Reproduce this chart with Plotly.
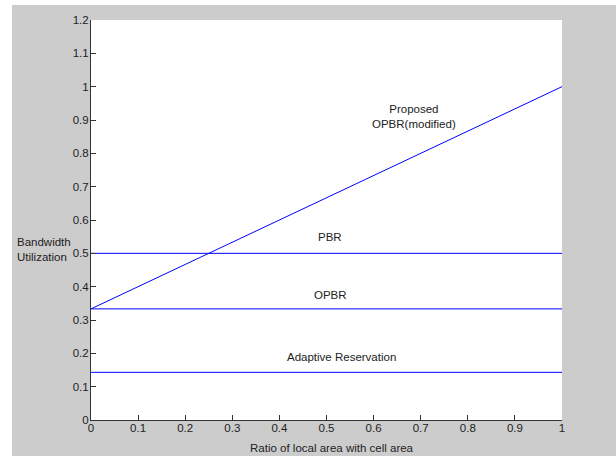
import plotly.graph_objects as go

x_vals = [0, 1]
proposed = [1/3, 1.0]
pbr = [0.5, 0.5]
opbr = [1/3, 1/3]
adaptive = [0.143, 0.143]

x_ticks = [0, 0.1, 0.2, 0.3, 0.4, 0.5, 0.6, 0.7, 0.8, 0.9, 1]
y_ticks = [0, 0.1, 0.2, 0.3, 0.4, 0.5, 0.6, 0.7, 0.8, 0.9, 1, 1.1, 1.2]
x_labels = ["0", "0.1", "0.2", "0.3", "0.4", "0.5", "0.6", "0.7", "0.8", "0.9", "1"]
y_labels = ["0", "0.1", "0.2", "0.3", "0.4", "0.5", "0.6", "0.7", "0.8", "0.9", "1", "1.1", "1.2"]

labels = [
    ("Proposed<br>OPBR(modified)", 0.686, 0.91),
    ("PBR", 0.507, 0.549),
    ("OPBR", 0.509, 0.375),
    ("Adaptive Reservation", 0.531, 0.19),
]

FONT = "Liberation Sans, Arial, sans-serif"
FS = 11.5
TXT = "#222222"
BLUE = "#0000ff"

fig = go.Figure()
for ys in [proposed, pbr, opbr, adaptive]:
    fig.add_trace(go.Scatter(x=x_vals, y=ys, mode="lines",
                             line=dict(color=BLUE, width=1), showlegend=False,
                             hoverinfo="skip"))

for text, xx, yy in labels:
    fig.add_annotation(x=xx, y=yy, xref="x", yref="y", text=text, showarrow=False,
                       font=dict(family=FONT, size=FS, color=TXT), align="center")

fig.add_annotation(x=(15-91)/471, y=(420-249)/400, xref="paper", yref="paper",
                   text="Bandwidth<br>Utilization", showarrow=False, xanchor="left",
                   yanchor="middle", align="left",
                   font=dict(family=FONT, size=FS, color=TXT))
fig.add_annotation(x=(332-91)/471, y=(420-448)/400, xref="paper", yref="paper",
                   text="Ratio of local area with cell area", showarrow=False,
                   xanchor="center", yanchor="middle",
                   font=dict(family=FONT, size=FS, color=TXT))

# white screenshot strips on top and left
fig.add_shape(type="rect", xref="paper", yref="paper", x0=-0.2, x1=(12-91)/471,
              y0=-0.2, y1=1.1, fillcolor="white", line=dict(width=0), layer="below")
fig.add_shape(type="rect", xref="paper", yref="paper", x0=-0.2, x1=1.2,
              y0=(420-5)/400, y1=1.1, fillcolor="white", line=dict(width=0), layer="below")

axis_common = dict(ticks="inside", ticklen=5, tickcolor="#333333", showline=True,
                   linecolor="#333333", linewidth=1, showgrid=False, zeroline=False,
                   tickfont=dict(family=FONT, size=FS, color=TXT), mirror=False)

fig.update_xaxes(range=[0, 1], tickvals=x_ticks, ticktext=x_labels,
                 ticklabelstandoff=-3, **axis_common)
fig.update_yaxes(range=[0, 1.2], tickvals=y_ticks, ticktext=y_labels,
                 ticklabelstandoff=-1, **axis_common)

fig.update_layout(width=616, height=456, margin=dict(l=91, r=54, t=20, b=36),
                  paper_bgcolor="#cccccc", plot_bgcolor="white",
                  font=dict(family=FONT, size=FS, color=TXT))

fig.write_html("out.html", config={"displayModeBar": False},
               post_script="document.body.style.margin='0';")
